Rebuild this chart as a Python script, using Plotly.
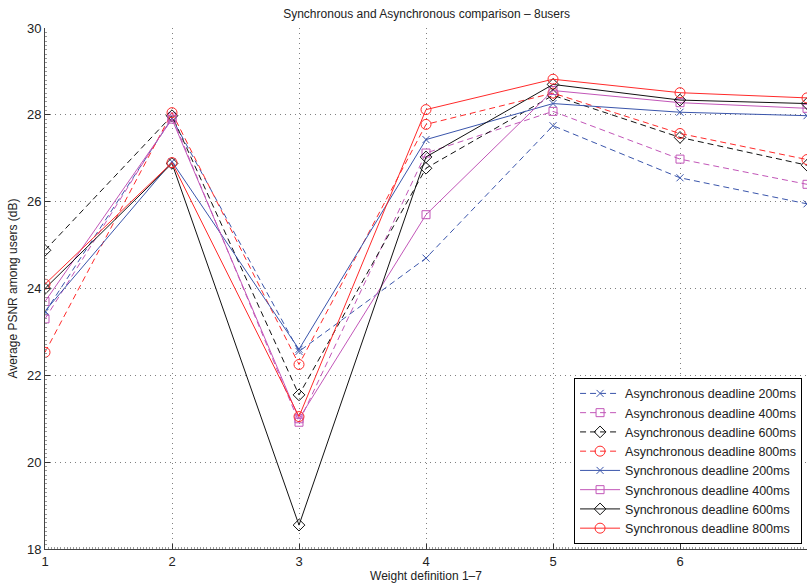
import plotly.graph_objects as go

x_vals = [1, 2, 3, 4, 5, 6, 7]

async200 = [23.45, 27.92, 22.55, 24.70, 27.75, 26.55, 25.95]
async400 = [23.30, 27.95, 20.92, 27.12, 28.08, 26.98, 26.40]
async600 = [24.88, 27.98, 21.55, 26.77, 28.45, 27.48, 26.84]
async800 = [22.53, 28.05, 22.25, 27.78, 28.50, 27.57, 26.97]
sync200 = [23.48, 26.92, 22.60, 27.43, 28.26, 28.06, 27.98]
sync400 = [23.70, 27.90, 21.00, 25.70, 28.56, 28.28, 28.15]
sync600 = [24.00, 26.88, 18.55, 27.03, 28.70, 28.34, 28.26]
sync800 = [24.10, 26.90, 21.05, 28.12, 28.82, 28.51, 28.39]

series_names = [
    "Asynchronous deadline 200ms", "Asynchronous deadline 400ms",
    "Asynchronous deadline 600ms", "Asynchronous deadline 800ms",
    "Synchronous deadline 200ms", "Synchronous deadline 400ms",
    "Synchronous deadline 600ms", "Synchronous deadline 800ms",
]
series_values = [async200, async400, async600, async800,
                 sync200, sync400, sync600, sync800]

colors = ["#3a55ab", "#c256b8", "#111111", "#ff2a2a"] * 2
symbols = ["x-thin-open", "square-open", "diamond-open", "circle-open"] * 2
sizes = [7, 8, 9, 10] * 2
dashes = ["6px,4px"] * 4 + ["solid"] * 4

fig = go.Figure()
for name, vals, c, s, sz, d in zip(series_names, series_values, colors, symbols, sizes, dashes):
    fig.add_trace(go.Scatter(
        x=x_vals, y=vals, name=name, mode="lines+markers",
        line=dict(color=c, width=1, dash=d),
        marker=dict(symbol=s, size=sz, color=c, line=dict(color=c, width=1)),
    ))

font_family = "Liberation Sans, Arial, sans-serif"

fig.update_layout(
    width=808, height=586,
    margin=dict(l=45, r=1, t=28, b=37),
    paper_bgcolor="white", plot_bgcolor="white",
    font=dict(family=font_family, size=13, color="#222"),
    title=dict(text="Synchronous and Asynchronous comparison – 8users",
               x=0.528, xanchor="center", y=0.976, yanchor="middle",
               font=dict(size=12, family=font_family, color="#222")),
    showlegend=True,
    legend=dict(x=0.9935, xanchor="right", y=0.01, yanchor="bottom",
                bgcolor="white", bordercolor="black", borderwidth=1,
                font=dict(size=12.5, family=font_family, color="#222"),
                tracegroupgap=0, itemwidth=40),
)

fig.update_xaxes(
    range=[1, 7], tickvals=x_vals, showgrid=True,
    gridcolor="#808080", griddash="1px,4px", gridwidth=1,
    showline=True, linecolor="#444", linewidth=1,
    ticks="inside", ticklen=5, tickcolor="#333",
    zeroline=False, mirror=False,
    tickfont=dict(size=13),
    title=dict(text="Weight definition 1–7", font=dict(size=12), standoff=4),
    minor=dict(ticks="inside", ticklen=2, dtick=0.025, tickcolor="#999", showgrid=False),
)
fig.update_yaxes(
    range=[18, 30], tickvals=[18, 20, 22, 24, 26, 28, 30], showgrid=True,
    gridcolor="#808080", griddash="1px,4px", gridwidth=1,
    showline=True, linecolor="#444", linewidth=1,
    ticks="inside", ticklen=5, tickcolor="#333",
    zeroline=False, mirror=False,
    tickfont=dict(size=13),
    title=dict(text="Average PSNR among users (dB)", font=dict(size=12), standoff=6),
    minor=dict(ticks="inside", ticklen=2, dtick=0.1, tickcolor="#999", showgrid=False),
)

fig.write_html("out.html")
